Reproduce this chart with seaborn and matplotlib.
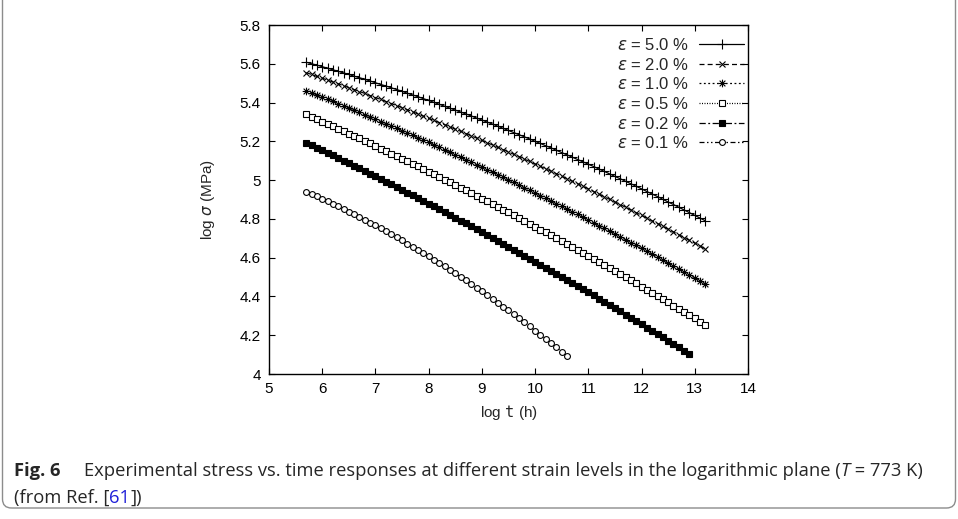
import matplotlib
matplotlib.use("Agg")
from matplotlib import pyplot as plt
from matplotlib.path import Path
from matplotlib.patches import FancyBboxPatch
from matplotlib.transforms import IdentityTransform
import pandas as pd
import seaborn as sns

# log t (h) sample positions
log_t = [5.7, 5.8, 5.9, 6.0, 6.1, 6.2, 6.3, 6.4, 6.5, 6.6, 6.7, 6.8, 6.9,
         7.0, 7.1, 7.2, 7.3, 7.4, 7.5, 7.6, 7.7, 7.8, 7.9,
         8.0, 8.1, 8.2, 8.3, 8.4, 8.5, 8.6, 8.7, 8.8, 8.9,
         9.0, 9.1, 9.2, 9.3, 9.4, 9.5, 9.6, 9.7, 9.8, 9.9,
         10.0, 10.1, 10.2, 10.3, 10.4, 10.5, 10.6, 10.7, 10.8, 10.9,
         11.0, 11.1, 11.2, 11.3, 11.4, 11.5, 11.6, 11.7, 11.8, 11.9,
         12.0, 12.1, 12.2, 12.3, 12.4, 12.5, 12.6, 12.7, 12.8, 12.9,
         13.0, 13.1, 13.2]

# log sigma (MPa) for each strain level
sig_50 = [5.608, 5.600, 5.593, 5.585, 5.577, 5.569, 5.561, 5.553, 5.545, 5.536,
          5.528, 5.520, 5.511, 5.502, 5.493, 5.485, 5.476, 5.467, 5.458, 5.448,
          5.439, 5.430, 5.420, 5.411, 5.401, 5.391, 5.381, 5.371, 5.361, 5.351,
          5.341, 5.331, 5.320, 5.310, 5.299, 5.289, 5.278, 5.267, 5.256, 5.245,
          5.234, 5.223, 5.212, 5.200, 5.189, 5.177, 5.166, 5.154, 5.142, 5.130,
          5.118, 5.106, 5.094, 5.082, 5.070, 5.057, 5.045, 5.032, 5.019, 5.007,
          4.994, 4.981, 4.968, 4.955, 4.941, 4.928, 4.915, 4.901, 4.887, 4.874,
          4.860, 4.846, 4.832, 4.818, 4.804, 4.790]
sig_20 = [5.554, 5.545, 5.535, 5.526, 5.516, 5.506, 5.497, 5.487, 5.477, 5.467,
          5.457, 5.447, 5.436, 5.426, 5.416, 5.405, 5.395, 5.384, 5.374, 5.363,
          5.352, 5.341, 5.330, 5.319, 5.308, 5.297, 5.286, 5.274, 5.263, 5.252,
          5.240, 5.228, 5.217, 5.205, 5.193, 5.181, 5.169, 5.157, 5.145, 5.133,
          5.121, 5.108, 5.096, 5.083, 5.071, 5.058, 5.046, 5.033, 5.020, 5.007,
          4.994, 4.981, 4.968, 4.955, 4.941, 4.928, 4.914, 4.901, 4.887, 4.874,
          4.860, 4.846, 4.832, 4.818, 4.804, 4.790, 4.776, 4.762, 4.747, 4.733,
          4.718, 4.704, 4.689, 4.675, 4.660, 4.645]
sig_10 = [5.461, 5.450, 5.439, 5.428, 5.417, 5.406, 5.395, 5.383, 5.372, 5.361,
          5.349, 5.337, 5.326, 5.314, 5.302, 5.291, 5.279, 5.267, 5.255, 5.243,
          5.231, 5.218, 5.206, 5.194, 5.181, 5.169, 5.156, 5.144, 5.131, 5.118,
          5.106, 5.093, 5.080, 5.067, 5.054, 5.041, 5.028, 5.014, 5.001, 4.988,
          4.974, 4.961, 4.947, 4.934, 4.920, 4.906, 4.893, 4.879, 4.865, 4.851,
          4.837, 4.823, 4.808, 4.794, 4.780, 4.765, 4.751, 4.736, 4.722, 4.707,
          4.692, 4.678, 4.663, 4.648, 4.633, 4.618, 4.603, 4.588, 4.572, 4.557,
          4.542, 4.526, 4.511, 4.495, 4.480, 4.464]
sig_05 = [5.339, 5.327, 5.315, 5.302, 5.290, 5.278, 5.265, 5.253, 5.240, 5.227,
          5.215, 5.202, 5.189, 5.176, 5.163, 5.150, 5.137, 5.124, 5.111, 5.098,
          5.084, 5.071, 5.057, 5.044, 5.030, 5.017, 5.003, 4.989, 4.975, 4.961,
          4.947, 4.933, 4.919, 4.905, 4.891, 4.876, 4.862, 4.848, 4.833, 4.819,
          4.804, 4.789, 4.775, 4.760, 4.745, 4.730, 4.715, 4.700, 4.685, 4.670,
          4.655, 4.639, 4.624, 4.608, 4.593, 4.577, 4.562, 4.546, 4.530, 4.515,
          4.499, 4.483, 4.467, 4.451, 4.435, 4.418, 4.402, 4.386, 4.369, 4.353,
          4.336, 4.320, 4.303, 4.287, 4.270, 4.253]
sig_02 = [5.193, 5.180, 5.167, 5.154, 5.141, 5.127, 5.114, 5.101, 5.087, 5.074,
          5.060, 5.047, 5.033, 5.019, 5.005, 4.992, 4.978, 4.964, 4.950, 4.936,
          4.921, 4.907, 4.893, 4.879, 4.864, 4.850, 4.835, 4.821, 4.806, 4.791,
          4.777, 4.762, 4.747, 4.732, 4.717, 4.702, 4.687, 4.672, 4.656, 4.641,
          4.626, 4.610, 4.595, 4.579, 4.564, 4.548, 4.532, 4.517, 4.501, 4.485,
          4.469, 4.453, 4.437, 4.421, 4.405, 4.388, 4.372, 4.356, 4.339, 4.323,
          4.306, 4.290, 4.273, 4.256, 4.239, 4.223, 4.206, 4.189, 4.172, 4.155,
          4.137, 4.120, 4.103]
sig_01 = [4.940, 4.928, 4.916, 4.903, 4.890, 4.877, 4.864, 4.851, 4.837, 4.823,
          4.809, 4.795, 4.780, 4.766, 4.751, 4.736, 4.720, 4.705, 4.689, 4.673,
          4.657, 4.640, 4.624, 4.607, 4.590, 4.573, 4.555, 4.537, 4.519, 4.501,
          4.483, 4.464, 4.445, 4.426, 4.407, 4.388, 4.368, 4.348, 4.328, 4.308,
          4.287, 4.266, 4.245, 4.224, 4.203, 4.181, 4.159, 4.137, 4.115, 4.093]

strains = ["5.0", "2.0", "1.0", "0.5", "0.2", "0.1"]
curves = [sig_50, sig_20, sig_10, sig_05, sig_02, sig_01]

x_ticks = [5, 6, 7, 8, 9, 10, 11, 12, 13, 14]
y_ticks = [4.0, 4.2, 4.4, 4.6, 4.8, 5.0, 5.2, 5.4, 5.6, 5.8]
y_ticklabels = ["4", "4.2", "4.4", "4.6", "4.8", "5", "5.2", "5.4", "5.6", "5.8"]

# gnuplot style "*" point: plus and cross together
asterisk = Path([(-1, 0), (1, 0), (0, -1), (0, 1),
                 (-0.75, -0.75), (0.75, 0.75), (-0.75, 0.75), (0.75, -0.75)],
                [Path.MOVETO, Path.LINETO] * 4)

styles = [
    dict(marker="+", linestyle="-", markersize=6.5, mfc="black"),
    dict(marker="x", linestyle=(0, (4, 2.5)), markersize=4.8, mfc="black"),
    dict(marker=asterisk, linestyle=(0, (1.5, 2)), markersize=5.5, mfc="none"),
    dict(marker="s", linestyle=(0, (0.8, 1.2)), markersize=4.5, mfc="white"),
    dict(marker="s", linestyle=(0, (5, 2, 1.5, 2)), markersize=4.8, mfc="black"),
    dict(marker="o", linestyle=(0, (4, 2, 1.2, 2, 1.2, 2)), markersize=4.2, mfc="white"),
]

sns.set_style("ticks")
plt.rcParams["font.family"] = ["Liberation Sans", "DejaVu Sans"]
plt.rcParams["mathtext.fontset"] = "dejavusans"

fig = plt.figure(figsize=(9.58, 5.19), dpi=100)
ax = fig.add_axes([269 / 958, 1 - 374 / 519, 479 / 958, 349 / 519])

for lab, vals, st in zip(strains, curves, styles):
    df = pd.DataFrame({"log_t": log_t[:len(vals)], "log_sigma": vals})
    sns.lineplot(data=df, x="log_t", y="log_sigma", ax=ax, color="black",
                 estimator=None, sort=False, linewidth=0.9,
                 label=r"$\varepsilon$ = " + lab + " %",
                 marker=st["marker"], linestyle=st["linestyle"],
                 markersize=st["markersize"], markerfacecolor=st["mfc"],
                 markeredgecolor="black", markeredgewidth=0.8)

ax.set_xlim(5, 14)
ax.set_ylim(4, 5.8)
ax.set_xticks(x_ticks)
ax.set_xticklabels([str(v) for v in x_ticks])
ax.set_yticks(y_ticks)
ax.set_yticklabels(y_ticklabels)
ax.tick_params(direction="in", length=4.5, width=0.8, top=True, right=True,
               labelsize=11, colors="black", pad=6)
for sp in ax.spines.values():
    sp.set_linewidth(1.0)
    sp.set_color("black")
ax.set_xlabel(r"log $\mathtt{t}$ (h)", fontsize=11, labelpad=5)
ax.set_ylabel(r"log $\sigma$ (MPa)", fontsize=11, labelpad=16)

handles, labels = ax.get_legend_handles_labels()
ax.legend(handles, labels, loc="upper right", bbox_to_anchor=(1.0056, 0.985),
          frameon=False, markerfirst=False, fontsize=12, handlelength=2.7,
          handletextpad=0.6, labelspacing=0.22, borderaxespad=0, numpoints=1)

# journal figure frame and caption
frame = FancyBboxPatch((2.5, 11), 953, 540, boxstyle="round,pad=0,rounding_size=9",
                       transform=IdentityTransform(), fc="none", ec="#8c8c8c",
                       lw=1.0, clip_on=False)
fig.add_artist(frame)

cap_font = ["Open Sans", "DejaVu Sans"]
cap_size = 13.2
renderer = fig.canvas.get_renderer()


def put_runs(runs, x0, y):
    x = x0
    for txt, kw in runs:
        if "x" in kw:
            x = kw.pop("x")
        t = fig.text(x / 958, 1 - y / 519, txt, family=cap_font, fontsize=cap_size,
                     va="baseline", ha="left", **kw)
        x = t.get_window_extent(renderer).x1
    return x


put_runs([("Fig. 6", dict(weight="bold")),
          ("Experimental stress vs. time responses at different strain levels "
           "in the logarithmic plane (", dict(x=84)),
          ("T", dict(style="italic")),
          (" = 773 K)", {})], 14, 476)
put_runs([("(from Ref. [", {}), ("61", dict(color="#1f1fd8")), ("])", {})], 14, 503)

fig.savefig("out.png", dpi=100)
